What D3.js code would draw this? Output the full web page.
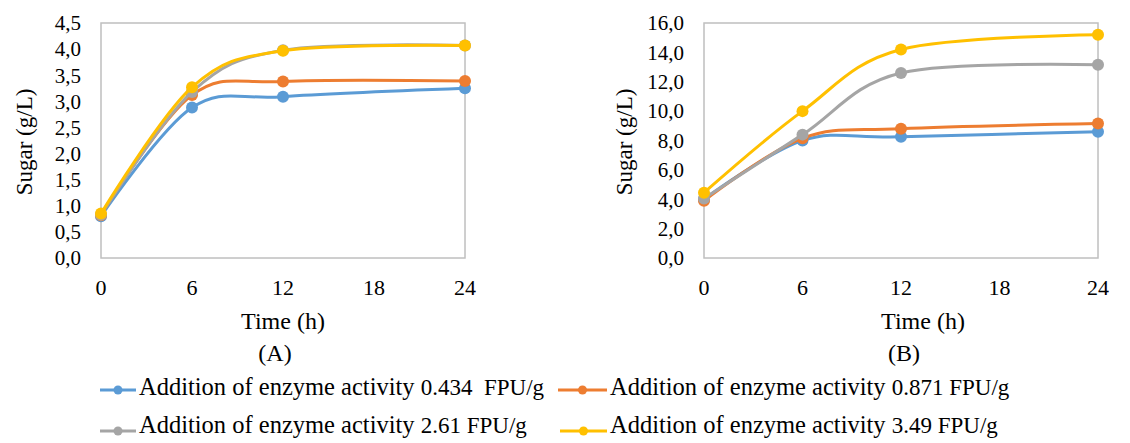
<!DOCTYPE html>
<html>
<head>
<meta charset="utf-8">
<script src="https://cdn.jsdelivr.net/npm/d3@7"></script>
<style>
  body { margin: 0; background: #fff; }
  text { font-family: "Liberation Serif", "Times New Roman", serif; fill: #000; }
</style>
</head>
<body>
<svg id="chart" width="1130" height="443"></svg>
<script>
// tiempo de muestreo (h)
const times = [0, 6, 12, 24];
const xTicks = [0, 6, 12, 18, 24];

const seriesNames = ["0.434  FPU/g", "0.871 FPU/g", "2.61 FPU/g", "3.49 FPU/g"];
const colors = ["#5B9BD5", "#ED7D31", "#A5A5A5", "#FFC000"];

// panel A
const sugarA_0434 = [0.80, 2.88, 3.09, 3.25];
const sugarA_0871 = [0.82, 3.12, 3.38, 3.39];
const sugarA_261 = [0.83, 3.18, 3.98, 4.07];
const sugarA_349 = [0.85, 3.27, 3.97, 4.07];

// panel B
const sugarB_0434 = [4.0, 8.0, 8.25, 8.6];
const sugarB_0871 = [3.9, 8.15, 8.8, 9.15];
const sugarB_261 = [4.05, 8.4, 12.6, 13.15];
const sugarB_349 = [4.45, 10.0, 14.2, 15.2];

const panels = [
    { label: "(A)", left: 101, right: 465, yMax: 4.5, yStep: 0.5, titleX: 24, timeX: 283, labX: 275,
      data: [sugarA_0434, sugarA_0871, sugarA_261, sugarA_349] },
    { label: "(B)", left: 704, right: 1098, yMax: 16, yStep: 2, titleX: 624, timeX: 923, labX: 904,
      data: [sugarB_0434, sugarB_0871, sugarB_261, sugarB_349] }
];

const plotTop = 23, plotBottom = 258;
const svg = d3.select('#chart');
const fmt = v => d3.format('.1f')(v).replace('.', ',');

panels.forEach(p => {
    const x = d3.scaleLinear().domain([0, 24]).range([p.left, p.right]);
    const y = d3.scaleLinear().domain([0, p.yMax]).range([plotBottom, plotTop]);
    const g = svg.append('g');

    g.append('rect')
     .attr('x', p.left).attr('y', plotTop)
     .attr('width', p.right - p.left).attr('height', plotBottom - plotTop)
     .attr('fill', 'none').attr('stroke', '#BFBFBF').attr('stroke-width', 1.5);

    const yTicks = d3.range(0, p.yMax + 0.001, p.yStep);
    g.selectAll('.ytick').data(yTicks).join('text')
     .attr('x', p.left - 20)
     .attr('y', d => y(d))
     .attr('dy', '0.35em')
     .attr('text-anchor', 'end')
     .attr('font-size', '21px')
     .text(fmt);

    g.selectAll('.xtick').data(xTicks).join('text')
     .attr('x', d => x(d))
     .attr('y', 295)
     .attr('text-anchor', 'middle')
     .attr('font-size', '22px')
     .text(d => d);

    g.append('text')
     .attr('transform', `translate(${p.titleX + 8}, 142) rotate(-90)`)
     .attr('text-anchor', 'middle')
     .attr('font-size', '23px')
     .text('Sugar (g/L)');

    g.append('text')
     .attr('x', p.timeX).attr('y', 329)
     .attr('text-anchor', 'middle')
     .attr('font-size', '24px')
     .text('Time (h)');

    g.append('text')
     .attr('x', p.labX).attr('y', 361)
     .attr('text-anchor', 'middle')
     .attr('font-size', '24px')
     .text(p.label);

    const line = d3.line()
        .x((d, i) => x(times[i]))
        .y(d => y(d))
        .curve(d3.curveCardinal.tension(0));

    p.data.forEach((vals, k) => {
        g.append('path')
         .datum(vals)
         .attr('fill', 'none')
         .attr('stroke', colors[k])
         .attr('stroke-width', 3)
         .attr('d', line);

        g.selectAll(null).data(vals).join('circle')
         .attr('cx', (d, i) => x(times[i]))
         .attr('cy', d => y(d))
         .attr('r', 6)
         .attr('fill', colors[k]);
    });
});

// leyenda
const legendPos = [
    { x1: 100, x2: 136, y: 390, base: 395 },
    { x1: 558, x2: 607, y: 390, base: 395 },
    { x1: 100, x2: 136, y: 431, base: 433 },
    { x1: 560, x2: 607, y: 431, base: 433 }
];

seriesNames.forEach((name, k) => {
    const pos = legendPos[k];
    const lg = svg.append('g');
    lg.append('line')
      .attr('x1', pos.x1).attr('x2', pos.x2)
      .attr('y1', pos.y).attr('y2', pos.y)
      .attr('stroke', colors[k]).attr('stroke-width', 3);
    lg.append('circle')
      .attr('cx', (pos.x1 + pos.x2) / 2).attr('cy', pos.y)
      .attr('r', 4.5).attr('fill', colors[k]);
    const t = lg.append('text')
      .attr('x', pos.x2 + 3).attr('y', pos.base)
      .attr('font-size', '24.5px')
      .style('white-space', 'pre');
    t.append('tspan').text('Addition of enzyme activity ');
    t.append('tspan').attr('font-size', '23px').text(name);
});
</script>
</body>
</html>
